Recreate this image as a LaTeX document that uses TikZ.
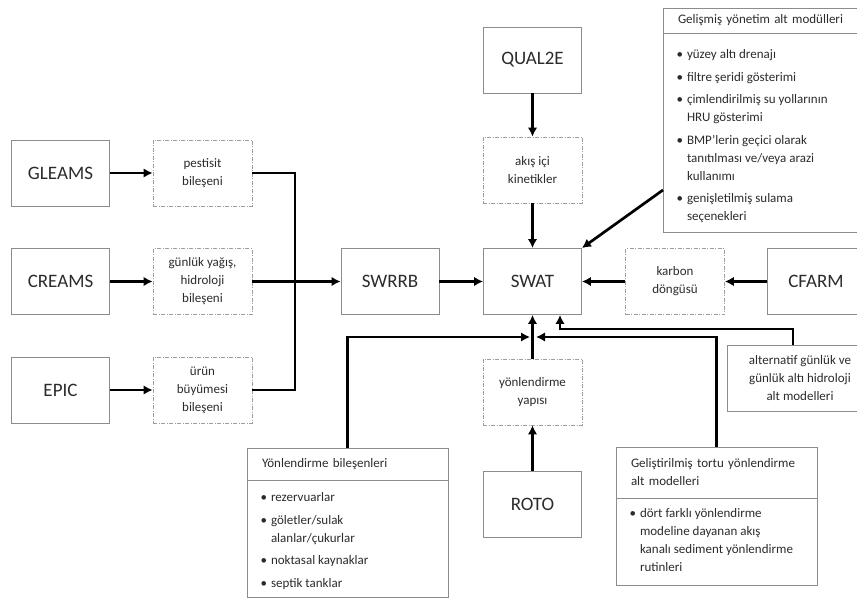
\documentclass[tikz,border=0pt]{standalone}
\usepackage{fontspec}
\setmainfont{Carlito}
\usepackage{enumitem}
\usetikzlibrary{arrows.meta}
\definecolor{txtgray}{HTML}{2B2B2B}
\definecolor{boxgray}{HTML}{8C8C8C}
\setlist[itemize]{label=\textbullet, leftmargin=24pt, labelsep=4pt,
  topsep=0pt, partopsep=0pt, parsep=0pt, itemsep=4.5pt}
\begin{document}
\begin{tikzpicture}[x=1pt,y=-1pt,
    model/.style={draw=boxgray,line width=0.9pt,minimum width=98pt,
      minimum height=66pt,text=txtgray,font=\fontsize{19}{23}\selectfont},
    part/.style={draw=boxgray!85,line width=0.8pt,
      dash pattern=on 4pt off 1.5pt on 1pt off 1.5pt,
      minimum width=99pt,minimum height=66pt,align=center,text=txtgray,
      font=\fontsize{13}{18}\selectfont},
    listhead/.style={draw=boxgray,line width=0.9pt,inner xsep=15pt,
      align=left,text=txtgray,font=\fontsize{13}{18}\selectfont},
    listbody/.style={draw=boxgray,line width=0.9pt,inner sep=0pt,
      text=txtgray,font=\fontsize{13}{18}\selectfont},
    link/.style={line width=2.7pt},
    arr/.style={link,-{Latex[length=9pt,width=9.5pt]}}]
  \useasboundingbox (0,0) rectangle (857,599);

  % sol taraf
  \node[model] (gleams) at (60.5,173) {GLEAMS};
  \node[model] (creams) at (60.5,281.5) {CREAMS};
  \node[model] (epic) at (60.5,390) {EPIC};
  \node[part] (pest) at (202.5,173) {pestisit\\bileşeni};
  \node[part] (gunluk) at (202.5,281.5) {günlük yağış,\\hidroloji\\bileşeni};
  \node[part] (urun) at (202.5,390) {ürün\\büyümesi\\bileşeni};
  \coordinate (bus) at (295,281.5);

  % orta
  \node[model] (swrrb) at (390,281.5) {SWRRB};
  \node[model] (swat) at (532.5,281.5) {SWAT};
  \node[model] (qual) at (532.5,60) {QUAL2E};
  \node[part] (akis) at (532.5,170) {akış içi\\kinetikler};
  \node[part] (yapisi) at (532.5,392) {yönlendirme\\yapısı};
  \node[model] (roto) at (532.5,504) {ROTO};

  % sag taraf
  \node[part] (karbon) at (675,281.5) {karbon\\döngüsü};
  \node[model] (cfarm) at (816,281.5) {CFARM};
  \node[draw=boxgray,line width=0.9pt,minimum width=146pt,minimum height=66pt,
    align=center,text=txtgray,font=\fontsize{13}{18}\selectfont]
    (alt) at (800,378) {alternatif günlük ve\\günlük altı hidroloji\\alt modelleri};

  % listeler
  \node[listhead,text width=166pt,minimum height=25pt] (gyHead) at (761,20.5)
    {Gelişmiş yönetim alt modülleri};
  \node[listbody,anchor=north] (gyBody) at (gyHead.south)
    {\parbox[c][199pt][t]{196pt}{\raggedright\vspace{16pt}%
      \begin{itemize}
        \item yüzey altı drenajı
        \item filtre şeridi gösterimi
        \item çimlendirilmiş su yollarının\\HRU gösterimi
        \item BMP'lerin geçici olarak\\tanıtılması ve/veya arazi\\kullanımı
        \item genişletilmiş sulama\\seçenekleri
      \end{itemize}}};
  \node[listhead,text width=171pt,minimum height=32pt] (ybHead) at (347.5,464)
    {Yönlendirme bileşenleri};
  \node[listbody,anchor=north] (ybBody) at (ybHead.south)
    {\parbox[c][117pt][t]{201pt}{\raggedright\vspace{12pt}%
      \begin{itemize}
        \item rezervuarlar
        \item göletler/sulak\\alanlar/çukurlar
        \item noktasal kaynaklar
        \item septik tanklar
      \end{itemize}}};
  \node[listhead,text width=171pt,minimum height=51pt] (gtHead) at (716.5,472.5)
    {Geliştirilmiş tortu yönlendirme\\alt modelleri};
  \node[listbody,anchor=north] (gtBody) at (gtHead.south)
    {\parbox[c][87pt][t]{201pt}{\raggedright\vspace{10pt}%
      \begin{itemize}
        \item dört farklı yönlendirme\\modeline dayanan akış\\kanalı sediment yönlendirme\\rutinleri
      \end{itemize}}};

  \coordinate (gyOut) at (663,190);
  \coordinate (jL) at (530,337);
  \coordinate (jR) at (536,337);
  \coordinate (kink) at (560,329);

  % baglantilar
  \draw[arr] (gleams.east) -- (pest.west);
  \draw[arr] (creams.east) -- (gunluk.west);
  \draw[arr] (epic.east) -- (urun.west);
  \draw[link] (pest.east) -| (bus) |- (urun.east);
  \draw[arr] (gunluk.east) -- (swrrb.west);
  \draw[arr] (swrrb.east) -- (swat.west);
  \draw[arr] (qual.south) -- (akis.north);
  \draw[arr] (akis.south) -- (swat.north);
  \draw[arr] (gyOut) -- (swat.north east);
  \draw[arr] (cfarm.west) -- (karbon.east);
  \draw[arr] (karbon.west) -- (swat.east);
  \draw[arr] (roto.north) -- (yapisi.south);
  \draw[arr] (yapisi.north) -- (swat.south);
  \draw[arr] (ybHead.north) |- (jL);
  \draw[arr] (gtHead.north) |- (jR);
  \draw[arr] (alt.north -| 793,0) |- (kink) -- (kink |- swat.south);
\end{tikzpicture}
\end{document}
